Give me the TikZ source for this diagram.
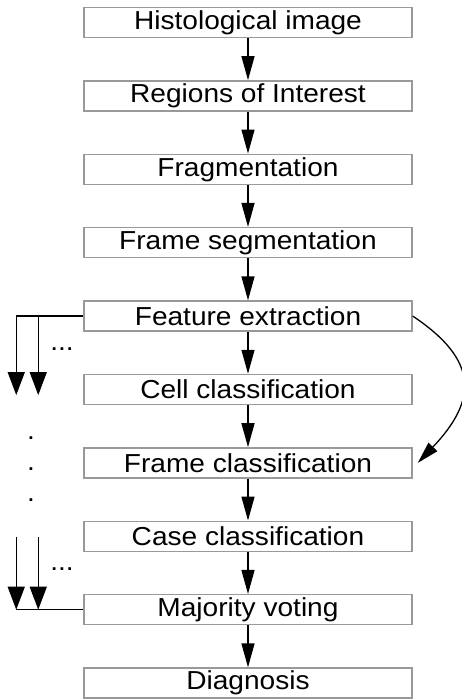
\documentclass[tikz,border=0pt]{standalone}
\usepackage{fontspec}
\setmainfont{Liberation Sans}[FakeStretch=1.08]
\usetikzlibrary{arrows.meta,calc}
\begin{document}
\begin{tikzpicture}[x=1pt,y=-1pt,
  stepbox/.style={draw=black!40, line width=1.5pt, minimum width=328pt, minimum height=30pt, inner sep=0pt, font=\fontsize{26}{30}\selectfont},
  flow/.style={line width=1.3pt, -{Triangle[width=13pt,length=24pt]}},
  side/.style={line width=1.3pt, -{Triangle[width=17pt,length=23pt]}},
  curv/.style={line width=1.3pt, -{Triangle[width=12pt,length=22pt]}},
  plain/.style={line width=1.3pt},
  dots/.style={inner sep=0pt, font=\fontsize{26}{30}\selectfont}]
\useasboundingbox (0,0) rectangle (461,699);
\node[stepbox] (n0) at (248,22.5) {Histological image};
\node[stepbox] (n1) at (248,95.9) {Regions of Interest};
\node[stepbox] (n2) at (248,169.3) {Fragmentation};
\node[stepbox] (n3) at (248,242.7) {Frame segmentation};
\node[stepbox] (n4) at (248,316.1) {Feature extraction};
\node[stepbox] (n5) at (248,389.5) {Cell classification};
\node[stepbox] (n6) at (248,462.9) {Frame classification};
\node[stepbox] (n7) at (248,536.3) {Case classification};
\node[stepbox] (n8) at (248,609.7) {Majority voting};
\node[stepbox] (n9) at (248,683.1) {Diagnosis};
\foreach \a/\b in {n0/n1,n1/n2,n2/n3,n3/n4,n4/n5,n5/n6,n6/n7,n7/n8,n8/n9}
  \draw[flow] (\a) -- (\b);
% left top fan
\coordinate (la) at ($(n4.west)+(-67,0)$);
\coordinate (lb) at ($(n4.west)+(-45,0)$);
\coordinate (la2) at ($(la)+(0,79)$);
\coordinate (lb2) at ($(lb)+(0,79)$);
\draw[plain] (n4.west) -- (la);
\draw[side] (la) -- (la2);
\draw[side] (lb) -- (lb2);
\node[dots] (e1) at (62,349) {...};
% vertical dots
\node[dots] (v1) at (31,438) {.};
\node[dots] (v2) at (31,469) {.};
\node[dots] (v3) at (31,500) {.};
% left bottom fan
\coordinate (ma) at ($(n8.west)+(-67,0)$);
\coordinate (mb) at ($(n8.west)+(-45,0)$);
\coordinate (ma0) at ($(ma)+(0,-73)$);
\coordinate (mb0) at ($(mb)+(0,-73)$);
\draw[plain] (n8.west) -- (ma);
\draw[side] (ma0) -- (ma);
\draw[side] (mb0) -- (mb);
\node[dots] (e2) at (62,569) {...};
% right curved arrow
\coordinate (fe) at ($(n6.east)+(5,0)$);
\draw[curv] (n4.east) .. controls +(66,44) and +(60,-63) .. (fe);
\end{tikzpicture}
\end{document}
